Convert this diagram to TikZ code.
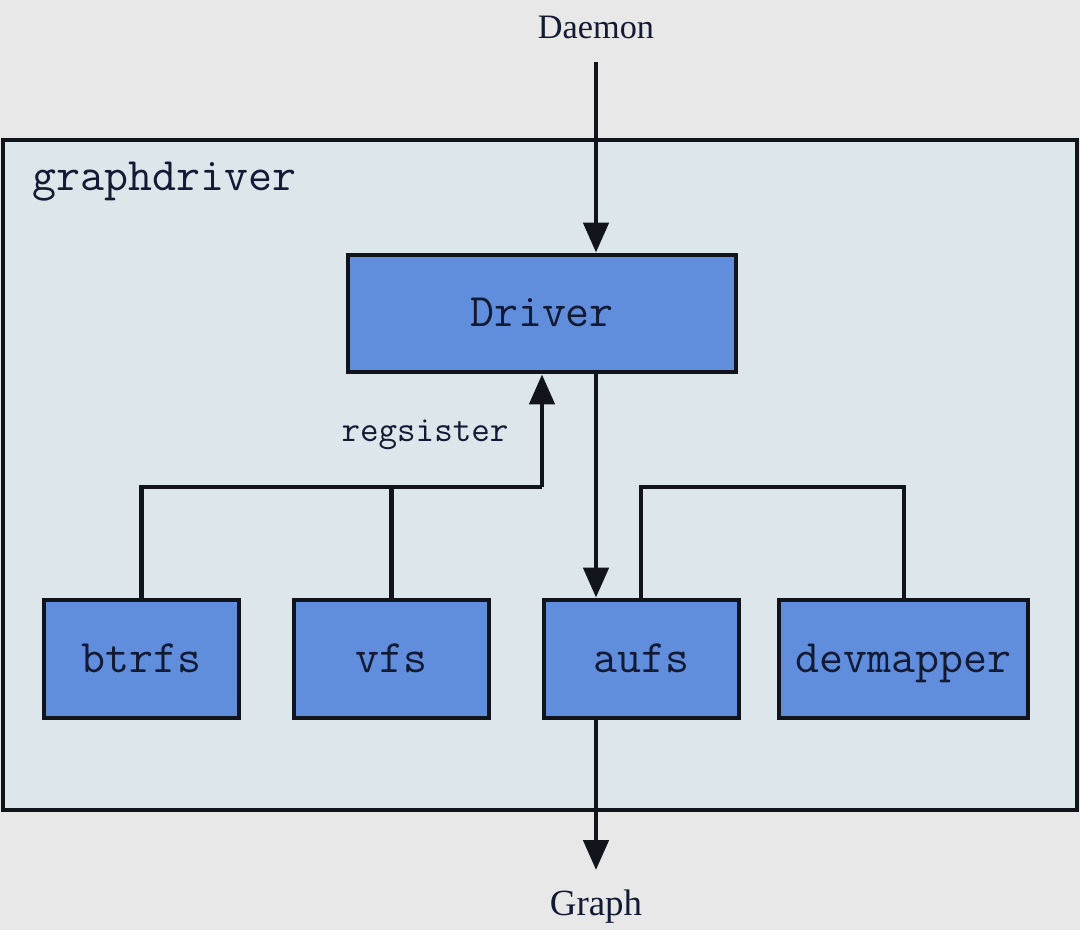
\documentclass[tikz,border=0pt]{standalone}
\usepackage{fontspec}
\setmainfont{Liberation Serif}
\usetikzlibrary{arrows.meta}
\definecolor{bgc}{RGB}{232,232,232}
\definecolor{panel}{RGB}{221,230,234}
\definecolor{boxc}{RGB}{96,142,221}
\definecolor{ink}{RGB}{18,20,28}
\definecolor{txt}{RGB}{18,26,52}
\begin{document}
\begin{tikzpicture}[x=0.02cm,y=-0.02cm,
  fsbox/.style={draw=ink,fill=boxc,line width=2.7pt,inner sep=0pt,text=txt,
    text height=15pt,text depth=0pt,font=\ttfamily\fontsize{26.5}{28}\selectfont},
  conn/.style={draw=ink,line width=2.7pt},
  arr/.style={conn,-{Triangle[length=0.6cm,width=0.5cm]}},
  lbl/.style={text=txt,inner sep=0pt}]
\fill[bgc] (0,0) rectangle (1080,930);
\useasboundingbox (0,0) rectangle (1080,930);
\draw[draw=ink,fill=panel,line width=2.7pt] (3,140) rectangle (1077,810);
\node[lbl,anchor=west,font=\ttfamily\fontsize{26.5}{28}\selectfont] (gd) at (32,182) {graphdriver};
\node[fsbox,minimum width=388*0.02cm,minimum height=117*0.02cm] (drv) at (542,313.5) {Driver};
\node[fsbox,minimum width=195*0.02cm,minimum height=118*0.02cm] (btrfs) at (141.5,659) {btrfs};
\node[fsbox,minimum width=195*0.02cm,minimum height=118*0.02cm] (vfs) at (391.5,659) {vfs};
\node[fsbox,minimum width=195*0.02cm,minimum height=118*0.02cm] (aufs) at (641.5,659) {aufs};
\node[fsbox,minimum width=249*0.02cm,minimum height=118*0.02cm] (dm) at (903.5,659) {devmapper};
\node[lbl,font=\fontsize{19.5}{22}\selectfont] (daemon) at (596,27) {Daemon};
\node[lbl,font=\fontsize{21}{24}\selectfont] (graph) at (596,907) {Graph};
\node[lbl,font=\ttfamily\fontsize{20.5}{24}\selectfont] (reg) at (425,435) {regsister};
\coordinate (dtop) at (596,62);
\coordinate (gtip) at (596,870);
\coordinate (junc) at (542,487);
\draw[arr] (dtop) -- (dtop |- drv.north);
\draw[arr] (596,0 |- drv.south) -- (596,0 |- aufs.north);
\draw[arr] (596,0 |- aufs.south) -- (gtip);
\draw[conn] (btrfs.north) |- (junc);
\draw[conn] (vfs.north) -- (vfs.north |- junc);
\draw[arr] (junc) -- (junc |- drv.south);
\draw[conn] (641,0 |- aufs.north) |- (904,487) -- (904,0 |- dm.north);
\end{tikzpicture}
\end{document}
